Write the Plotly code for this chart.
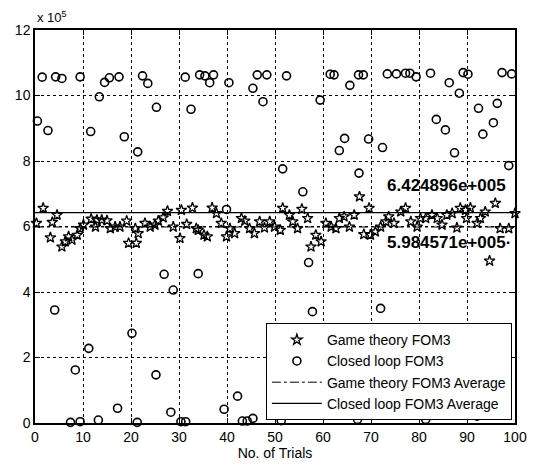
import plotly.graph_objects as go

# Values in units of 1e5 (axis shows "x 10^5")
game_x = [0.3, 1.7, 3.2, 3.6, 4.6, 5.6, 6.3, 7.0, 7.7, 8.8, 9.4, 10.1, 11.7, 12.6, 12.9, 13.9, 15.0, 15.7,
          16.7, 17.7, 19.1, 19.5, 20.9, 21.1, 21.5, 22.9, 24.0, 25.0, 25.7, 26.7, 27.6, 28.8, 30.2, 30.5,
          31.6, 32.8, 33.6, 34.0, 35.2, 35.9, 36.9, 37.8, 38.8, 39.9, 40.6, 41.6, 43.0, 43.7, 44.7, 45.7,
          46.8, 47.8, 48.9, 49.9, 51.1, 51.6, 53.0, 53.7, 54.7, 55.6, 56.8, 57.5, 58.5, 59.6, 60.6, 61.7,
          62.7, 63.4, 64.4, 65.5, 66.5, 67.6, 68.5, 69.6, 69.9, 70.9, 72.0, 73.1, 73.7, 74.8, 76.2, 77.2,
          78.3, 79.6, 80.3, 81.4, 82.7, 83.8, 84.8, 85.8, 86.9, 87.9, 88.6, 89.7, 89.9, 90.7, 92.1, 92.8,
          93.8, 94.7, 95.9, 96.9, 98.7, 100.0]
game_y = [6.10, 6.56, 5.66, 6.13, 6.35, 5.38, 5.54, 5.69, 5.59, 5.74, 5.94, 6.05, 6.23, 5.99, 6.20, 6.20, 6.18, 5.94,
          5.99, 5.99, 6.17, 5.49, 5.94, 5.49, 5.79, 6.10, 5.99, 6.05, 6.17, 6.27, 6.47, 5.99, 5.64, 6.50,
          6.07, 6.57, 5.94, 5.89, 5.74, 5.69, 6.57, 6.40, 6.10, 5.69, 5.94, 5.79, 6.25, 6.17, 5.94, 5.79,
          6.15, 5.96, 6.15, 5.99, 5.89, 6.56, 6.35, 6.15, 5.94, 6.53, 6.25, 5.38, 5.74, 5.54, 6.10, 5.99,
          5.94, 6.25, 6.30, 5.99, 6.35, 6.91, 5.76, 6.56, 5.74, 5.84, 5.99, 6.15, 6.30, 6.10, 6.45, 6.56,
          6.15, 5.99, 6.25, 6.25, 6.35, 6.25, 6.05, 6.35, 6.40, 5.96, 6.56, 6.50, 6.25, 6.57, 6.10, 6.25,
          6.45, 4.95, 6.71, 5.94, 5.94, 6.40]

closed_x = [0.5, 1.5, 2.7, 4.3, 5.6, 9.4, 11.6, 13.4, 14.5, 15.5, 17.5, 18.6, 21.4, 22.4, 23.5, 25.3, 31.3,
            32.5, 34.3, 35.4, 36.4, 37.2, 40.4, 45.4, 46.3, 47.5, 48.3, 51.6, 52.4, 55.8, 59.4, 61.5, 62.3,
            63.4, 64.5, 65.6, 67.4, 67.5, 68.4, 69.5, 72.4, 73.4, 75.3, 77.2, 78.1, 79.4, 82.4, 83.6, 85.5,
            86.3, 87.4, 88.4, 89.2, 90.2, 92.4, 93.3, 95.5, 96.3, 97.3, 98.7, 99.3,
            4.1, 8.4, 11.2, 20.2, 25.2, 26.9, 28.8, 34.0, 39.9, 57.0, 57.8, 72.0,
            7.4, 9.4, 13.2, 17.2, 21.3, 28.3, 30.4, 31.4, 39.4, 42.2, 43.2, 44.2, 45.4, 51.3, 67.2, 81.4, 92.1]
closed_y = [9.22, 10.56, 8.93, 10.57, 10.52, 10.57, 8.90, 9.96, 10.40, 10.54, 10.57, 8.74, 8.28, 10.60, 10.37, 9.64, 10.56,
            9.58, 10.63, 10.60, 10.39, 10.63, 10.39, 10.22, 10.63, 9.81, 10.63, 7.76, 10.60, 7.06, 9.86, 10.65, 10.63,
            8.32, 8.69, 10.31, 10.63, 7.63, 10.63, 8.67, 8.41, 10.66, 10.66, 10.68, 10.68, 10.57, 10.68, 9.27, 8.95,
            10.39, 8.25, 10.07, 10.70, 10.65, 9.61, 8.82, 9.17, 9.76, 10.70, 7.86, 10.66,
            3.45, 1.62, 2.28, 2.74, 1.47, 4.54, 4.06, 4.56, 6.52, 4.90, 3.40, 3.50,
            0.02, 0.04, 0.09, 0.45, 0.02, 0.33, 0.04, 0.04, 0.42, 0.82, 0.06, 0.06, 0.14, 0.07, 0.11, 0.11, 0.21]

game_avg = 5.984571e5
closed_avg = 6.424896e5
scale = 1e5
x_range = [0, 100]

x_ticks = list(range(0, 101, 10))
y_ticks = list(range(0, 13, 2))

FONT = "Liberation Sans, Arial, sans-serif"


def matlab_exp(v):
    m, e = ("%.6e" % v).split("e")
    sign = e[0]
    return "%se%s%03d" % (m, sign, abs(int(e)))


fig = go.Figure()
fig.add_trace(go.Scatter(x=game_x, y=game_y, mode="markers", name="Game theory FOM3",
                         marker=dict(symbol="star-open", size=8, color="black", line=dict(width=1.3, color="black")),
                         cliponaxis=False))
fig.add_trace(go.Scatter(x=closed_x, y=closed_y, mode="markers", name="Closed loop FOM3",
                         marker=dict(symbol="circle-open", size=8, color="black", line=dict(width=1.6, color="black")),
                         cliponaxis=False))
fig.add_trace(go.Scatter(x=x_range, y=[game_avg / scale] * 2, mode="lines", name="Game theory FOM3 Average",
                         line=dict(color="black", width=1, dash="dashdot")))
fig.add_trace(go.Scatter(x=x_range, y=[closed_avg / scale] * 2, mode="lines", name="Closed loop FOM3 Average",
                         line=dict(color="black", width=1.2)))

fig.add_annotation(x=72.9, y=7.24, xref="x", yref="y", text=matlab_exp(closed_avg),
                   showarrow=False, xanchor="left", yanchor="middle",
                   font=dict(family=FONT, size=17, color="black", weight="bold"))
fig.add_annotation(x=72.9, y=5.5, xref="x", yref="y", text=matlab_exp(game_avg) + "·",
                   showarrow=False, xanchor="left", yanchor="middle",
                   font=dict(family=FONT, size=17, color="black", weight="bold"))
fig.add_annotation(x=0, y=1.0, xref="paper", yref="paper", text="x 10<sup>5</sup>",
                   showarrow=False, xanchor="left", yanchor="bottom", yshift=3,
                   font=dict(family=FONT, size=13, color="black"))

axis_common = dict(showline=True, linecolor="black", linewidth=1.5, mirror="ticks",
                   ticks="inside", ticklen=5, tickcolor="black", automargin=False,
                   showgrid=True, gridcolor="black", gridwidth=1, griddash="3px,3px",
                   zeroline=False, tickfont=dict(family=FONT, size=14, color="black"))

# page body adds an 8px margin, so the figure is 8px smaller than the window
fig.update_layout(
    width=531, height=457,
    margin=dict(l=27, r=24, t=22, b=42),
    paper_bgcolor="white", plot_bgcolor="white",
    xaxis=dict(range=x_range, tickvals=x_ticks, ticktext=[str(v) for v in x_ticks],
               title=dict(text="No. of Trials", font=dict(family=FONT, size=14, color="black"), standoff=4),
               **axis_common),
    yaxis=dict(range=[0, 12], tickvals=y_ticks, ticktext=[str(v) for v in y_ticks], **axis_common),
    legend=dict(x=0.481, y=0.254, xanchor="left", yanchor="top",
                bgcolor="white", bordercolor="black", borderwidth=1,
                font=dict(family=FONT, size=14, color="black"),
                itemwidth=50, tracegroupgap=0),
    showlegend=True,
)

fig.write_html("out.html")
